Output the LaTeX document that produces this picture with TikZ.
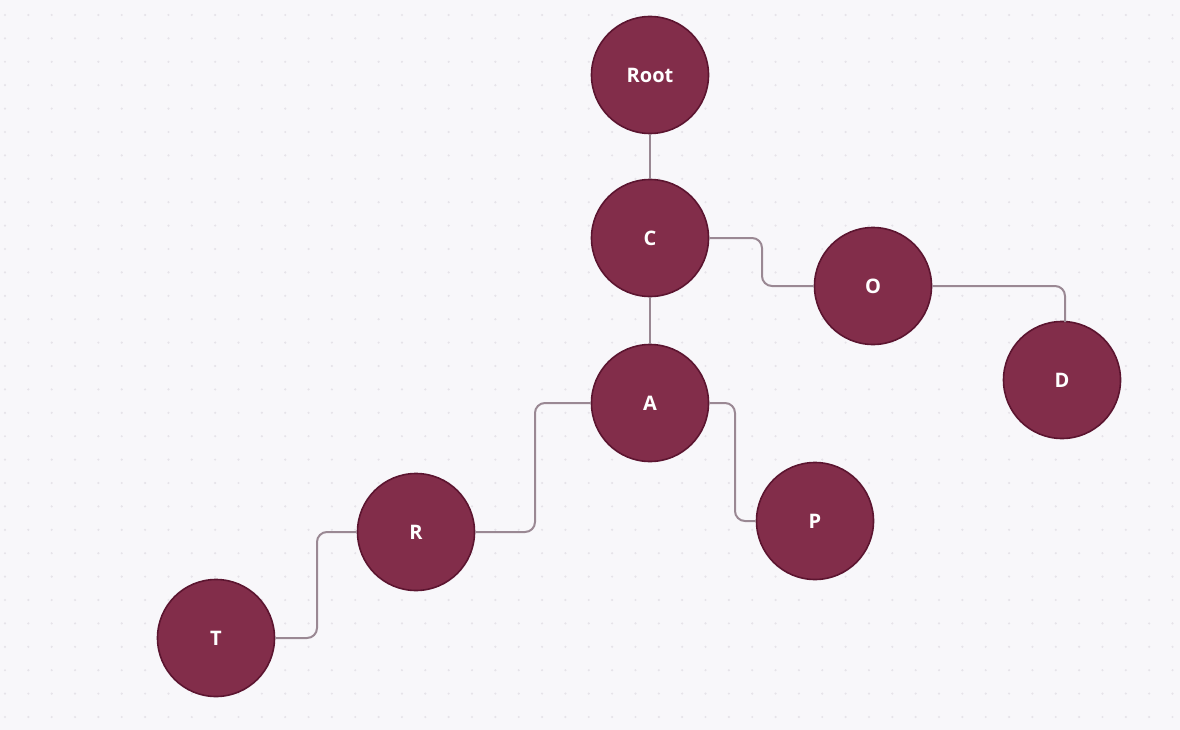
\documentclass[tikz,border=0pt]{standalone}
\usepackage{fontspec}
\setmainfont{Open Sans}
\definecolor{bgcol}{HTML}{F8F7FA}
\definecolor{dotcol}{HTML}{E6E3E9}
\definecolor{nodefill}{HTML}{822D4A}
\definecolor{nodeedge}{HTML}{5C1530}
\definecolor{linkcol}{HTML}{9A8893}
\begin{document}
\begin{tikzpicture}[x=1pt,y=-1pt,
  vertex/.style={circle,minimum size=117pt,inner sep=0pt,fill=nodefill,draw=nodeedge,line width=1.6pt,
    text=white,font=\fontsize{20}{22}\selectfont\bfseries},
  link/.style={draw=linkcol,line width=2pt,rounded corners=10pt}]
  % canvas and dotted grid
  \fill[bgcol] (0,0) rectangle (1180,730);
  \useasboundingbox (0,0) rectangle (1180,730);
  \foreach \i in {0,...,50}{
    \foreach \j in {0,...,30}{
      \fill[dotcol] (5+23.35*\i,15+23.4*\j) circle (1.2pt);
    }
  }
  % tree nodes
  \node[vertex] (root) at (650,75) {Root};
  \node[vertex] (c) at (650,238) {C};
  \node[vertex] (a) at (650,403) {A};
  \node[vertex] (o) at (873,286) {O};
  \node[vertex] (d) at (1062,380) {D};
  \node[vertex] (p) at (815,521) {P};
  \node[vertex] (r) at (416,532) {R};
  \node[vertex] (t) at (216,638) {T};
  % connectors
  \draw[link] (root.south) -- (c.north);
  \draw[link] (c.south) -- (a.north);
  \draw[link] (c.east) -- (762,238) -- (762,286) -- (o.west);
  \draw[link] (o.east) -- (1065,286) -- (1065,322);
  \draw[link] (a.west) -- (535,403) -- (535,532) -- (r.east);
  \draw[link] (a.east) -- (735,403) -- (735,521) -- (p.west);
  \draw[link] (r.west) -- (317,532) -- (317,638) -- (t.east);
\end{tikzpicture}
\end{document}
